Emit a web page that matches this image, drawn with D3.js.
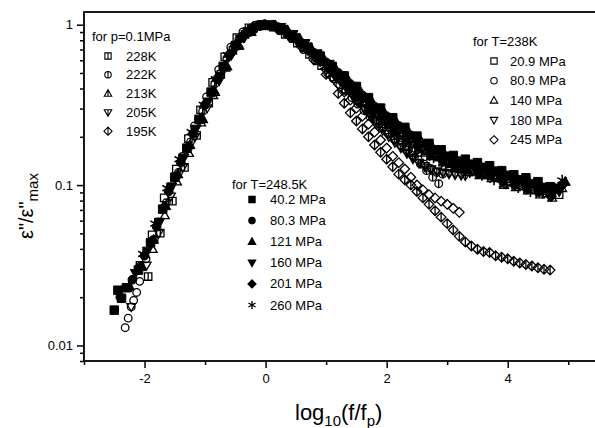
<html>
<head>
<script src="https://d3js.org/d3.v7.min.js"></script>
<style>
  body { margin: 0; background: #fff; }
  text { font-family: "Liberation Sans", Arial, sans-serif; }
</style>
</head>
<body>
<div id="chart"></div>
<script>

// ---- data: x = log10(f/fp), y = eps''/eps''max ----

// T = 248.5 K (filled symbols)
const t248_40 = [[-2.5,0.0166],[-2.44,0.0221],[-2.38,0.0197],[-2.3,0.0229],[-2.1,0.0295],[-1.9,0.0437],[-1.7,0.0708],[-1.5,0.112],[-1.3,0.170],[-1.1,0.257],[-0.9,0.380],[-0.7,0.550],[-0.5,0.741],[-0.3,0.902],[-0.1,0.989],[0.1,0.989],[0.3,0.923],[0.5,0.822],[0.7,0.724],[0.9,0.638],[1.1,0.550],[1.3,0.479],[1.5,0.412],[1.7,0.351],[1.9,0.302],[2.1,0.263],[2.3,0.229],[2.5,0.202],[2.7,0.182],[2.9,0.166],[3.1,0.153],[3.3,0.145],[3.5,0.138],[3.7,0.132],[3.9,0.123],[4.1,0.116],[4.3,0.111],[4.5,0.105],[4.7,0.0977]];
const t248_80 = [[-2.4,0.0200],[-2.2,0.0257],[-2.0,0.0363],[-1.8,0.055],[-1.6,0.0912],[-1.4,0.138],[-1.2,0.209],[-1.0,0.316],[-0.8,0.457],[-0.6,0.646],[-0.4,0.832],[-0.2,0.955],[0,1.0],[0.2,0.966],[0.4,0.871],[0.6,0.767],[0.8,0.668],[1.0,0.582],[1.2,0.501],[1.4,0.427],[1.6,0.363],[1.8,0.309],[2.0,0.269],[2.2,0.234],[2.4,0.204],[2.6,0.182],[2.8,0.166],[3.0,0.151],[3.2,0.141],[3.4,0.135],[3.6,0.129],[3.8,0.122],[4.0,0.115],[4.2,0.108],[4.4,0.102],[4.6,0.0966],[4.8,0.0955]];
const t248_121 = [[-2.25,0.0234],[-2.05,0.0309],[-1.85,0.0457],[-1.65,0.0741],[-1.45,0.117],[-1.25,0.178],[-1.05,0.263],[-0.85,0.389],[-0.65,0.550],[-0.45,0.741],[-0.25,0.902],[-0.05,0.989],[0.15,0.989],[0.35,0.923],[0.55,0.822],[0.75,0.716],[0.95,0.624],[1.15,0.537],[1.35,0.462],[1.55,0.394],[1.75,0.335],[1.95,0.288],[2.15,0.251],[2.35,0.219],[2.55,0.193],[2.75,0.174],[2.95,0.158],[3.15,0.146],[3.35,0.138],[3.55,0.132],[3.75,0.126],[3.95,0.117],[4.15,0.111],[4.35,0.106],[4.55,0.100],[4.75,0.0933],[4.95,0.105]];
const t248_160 = [[-2.15,0.0282],[-1.95,0.0389],[-1.75,0.0589],[-1.55,0.0977],[-1.35,0.148],[-1.15,0.224],[-0.95,0.331],[-0.75,0.479],[-0.55,0.661],[-0.35,0.832],[-0.15,0.955],[0.05,1.0],[0.25,0.966],[0.45,0.871],[0.65,0.767],[0.85,0.661],[1.05,0.569],[1.25,0.484],[1.45,0.407],[1.65,0.347],[1.85,0.295],[2.05,0.257],[2.25,0.224],[2.45,0.195],[2.65,0.174],[2.85,0.158],[3.05,0.145],[3.25,0.135],[3.45,0.129],[3.65,0.123],[3.85,0.116],[4.05,0.110],[4.25,0.104],[4.45,0.0977],[4.65,0.0923],[4.85,0.0912]];
const t248_201 = [[-2.085,0.0309],[-1.885,0.0447],[-1.685,0.0724],[-1.485,0.112],[-1.285,0.170],[-1.085,0.257],[-0.885,0.380],[-0.685,0.550],[-0.485,0.741],[-0.285,0.902],[-0.085,0.989],[0.115,0.989],[0.315,0.923],[0.515,0.813],[0.715,0.700],[0.915,0.596],[1.115,0.501],[1.315,0.427],[1.515,0.359],[1.715,0.305],[1.915,0.263],[2.115,0.229],[2.315,0.200],[2.515,0.176],[2.715,0.158],[2.915,0.145],[3.115,0.133],[3.315,0.126],[3.515,0.120],[3.715,0.115],[3.915,0.107],[4.115,0.101],[4.315,0.0966],[4.515,0.0912],[4.715,0.0851],[4.9,0.100]];
const t248_260 = [[-2.025,0.0372],[-1.825,0.0575],[-1.625,0.0955],[-1.425,0.145],[-1.225,0.214],[-1.025,0.316],[-0.825,0.457],[-0.625,0.646],[-0.425,0.832],[-0.225,0.955],[-0.025,1.0],[0.175,0.966],[0.375,0.871],[0.575,0.759],[0.775,0.646],[0.975,0.550],[1.175,0.462],[1.375,0.385],[1.575,0.324],[1.775,0.275],[1.975,0.240],[2.175,0.209],[2.375,0.182],[2.575,0.162],[2.775,0.148],[2.975,0.135],[3.175,0.126],[3.375,0.120],[3.575,0.115],[3.775,0.108],[3.975,0.102],[4.175,0.0966],[4.375,0.0912],[4.575,0.0891],[4.675,0.0871],[4.775,0.0955],[4.9,0.107]];

// p = 0.1 MPa (open symbols with a bar)
const p01_228 = [[-1.94,0.0269],[-1.74,0.0501],[-1.54,0.0794],[-1.34,0.129],[-1.14,0.204],[-0.94,0.324],[-0.74,0.490],[-0.54,0.692],[-0.34,0.871],[-0.14,0.989],[0.06,0.989],[0.26,0.923],[0.46,0.822],[0.66,0.716],[0.86,0.624],[1.06,0.537],[1.26,0.462],[1.46,0.394],[1.66,0.335],[1.86,0.288]];
const p01_222 = [[-1.84,0.0457],[-1.64,0.0776],[-1.44,0.120],[-1.24,0.186],[-1.04,0.288],[-0.84,0.427],[-0.64,0.617],[-0.44,0.813],[-0.24,0.955],[-0.04,1.0],[0.16,0.966],[0.36,0.871],[0.56,0.767],[0.76,0.668],[0.96,0.582],[1.16,0.501],[1.26,0.463],[1.36,0.427],[1.46,0.389],[1.56,0.355],[1.66,0.327],[1.76,0.302],[1.86,0.275],[1.96,0.251],[2.06,0.226],[2.16,0.204],[2.26,0.184],[2.36,0.166],[2.46,0.150],[2.56,0.135],[2.66,0.123],[2.76,0.112],[2.86,0.102]];
const p01_213 = [[-1.035,0.257],[-0.835,0.380],[-0.635,0.550],[-0.435,0.741],[-0.235,0.902],[-0.035,0.989],[0.165,0.989],[0.365,0.923],[0.565,0.822],[0.765,0.700],[0.965,0.596],[1.165,0.501],[1.265,0.460],[1.365,0.422],[1.465,0.389],[1.565,0.359],[1.665,0.328],[1.765,0.299],[1.865,0.277],[1.965,0.257],[2.065,0.240],[2.165,0.224],[2.265,0.209],[2.365,0.195],[2.465,0.183],[2.565,0.172],[2.665,0.163],[2.765,0.155],[2.865,0.148],[2.965,0.141],[3.065,0.135],[3.165,0.130],[3.265,0.125],[3.365,0.120],[3.565,0.117],[3.665,0.115],[3.765,0.114],[3.865,0.112],[3.94,0.100]];
const p01_205 = [[-0.77,0.457],[-0.57,0.646],[-0.37,0.832],[-0.17,0.955],[0.03,1.0],[0.23,0.966],[0.43,0.871],[0.63,0.767],[0.83,0.646],[1.03,0.543],[1.13,0.493],[1.23,0.447],[1.33,0.403],[1.43,0.363],[1.53,0.331],[1.63,0.302],[1.73,0.275],[1.83,0.251],[1.93,0.229],[2.03,0.209],[2.13,0.191],[2.23,0.174],[2.33,0.160],[2.43,0.148],[2.53,0.138],[2.63,0.132],[2.73,0.126],[2.83,0.122],[2.93,0.119],[3.03,0.117],[3.13,0.116],[3.23,0.115],[3.3,0.114]];
const p01_195 = [[-0.6,0.646],[-0.4,0.832],[-0.2,0.955],[0,1.0],[0.2,0.955],[0.4,0.851],[0.6,0.724],[0.8,0.603],[1.0,0.490],[1.2,0.372],[1.3,0.324],[1.4,0.282],[1.5,0.251],[1.6,0.224],[1.7,0.200],[1.8,0.178],[1.9,0.160],[2.0,0.145],[2.1,0.130],[2.2,0.117],[2.3,0.108],[2.4,0.100],[2.5,0.0912],[2.6,0.0832],[2.7,0.0759],[2.8,0.0692],[2.9,0.0631],[3.0,0.0575],[3.1,0.0525],[3.2,0.0479],[3.3,0.0442],[3.4,0.0417],[3.5,0.0398],[3.6,0.0385],[3.7,0.0380],[3.8,0.0363],[3.9,0.0355],[4.0,0.0347],[4.1,0.0335],[4.2,0.0327],[4.3,0.0320],[4.4,0.0313],[4.5,0.0305],[4.6,0.0299],[4.7,0.0295]];

// T = 238 K (open symbols)
const t238_21 = [[-2.275,0.0229],[-2.075,0.0316],[-1.875,0.0490],[-1.675,0.0832],[-1.475,0.126],[-1.275,0.195],[-1.075,0.295],[-0.875,0.437],[-0.675,0.631],[-0.475,0.832],[-0.275,0.955],[-0.075,1.0],[0.125,0.966],[0.325,0.871],[0.525,0.767],[0.725,0.653],[0.925,0.556],[1.125,0.473],[1.325,0.398],[1.525,0.339],[1.725,0.288],[1.925,0.251],[2.125,0.219],[2.325,0.191],[2.525,0.170],[2.725,0.155],[2.925,0.141],[3.125,0.132],[3.325,0.126],[3.525,0.120],[3.725,0.114],[3.925,0.107],[4.125,0.101],[4.325,0.0955],[4.525,0.0902],[4.725,0.0871],[4.85,0.0871]];
const t238_81 = [[-2.32,0.0129],[-2.27,0.0148],[-2.22,0.0174],[-2.18,0.0191],[-2.13,0.0214],[-2.08,0.0251],[-1.975,0.0347],[-1.775,0.0589],[-1.575,0.0977],[-1.375,0.151],[-1.175,0.234],[-0.975,0.355],[-0.775,0.525],[-0.575,0.724],[-0.375,0.902],[-0.175,0.989],[0.025,0.989],[0.225,0.923],[0.425,0.822],[0.625,0.700],[0.825,0.596],[1.025,0.501],[1.125,0.460],[1.225,0.422],[1.325,0.385],[1.425,0.351],[1.525,0.320],[1.625,0.292],[1.725,0.267],[1.825,0.245],[1.925,0.226],[2.025,0.209],[2.125,0.193],[2.225,0.178],[2.325,0.165],[2.425,0.153],[2.525,0.144],[2.625,0.135],[2.725,0.127],[2.825,0.120],[2.925,0.117]];
const t238_140 = [[-1.865,0.0398],[-1.665,0.0646],[-1.465,0.105],[-1.265,0.158],[-1.065,0.245],[-0.865,0.363],[-0.665,0.537],[-0.465,0.741],[-0.265,0.902],[-0.065,0.989],[0.135,0.989],[0.335,0.923],[0.535,0.822],[0.735,0.700],[0.935,0.596],[1.135,0.501],[1.235,0.460],[1.335,0.422],[1.435,0.387],[1.535,0.355],[1.635,0.326],[1.735,0.299],[1.835,0.276],[1.935,0.254],[2.035,0.236],[2.135,0.219],[2.235,0.205],[2.335,0.191],[2.435,0.179],[2.535,0.168],[2.635,0.159],[2.735,0.151],[2.935,0.138],[3.135,0.127],[3.335,0.120],[3.535,0.115],[3.735,0.110],[3.935,0.102],[4.135,0.0966],[4.335,0.0923],[4.535,0.0871],[4.735,0.0832],[4.9,0.0955]];
const t238_180 = [[-2.22,0.0174],[-1.965,0.0316],[-1.765,0.0501],[-1.565,0.0851],[-1.365,0.129],[-1.165,0.200],[-0.965,0.302],[-0.765,0.447],[-0.565,0.646],[-0.365,0.832],[-0.165,0.955],[0.035,1.0],[0.235,0.966],[0.435,0.871],[0.635,0.750],[0.835,0.638],[1.035,0.537],[1.135,0.490],[1.235,0.447],[1.335,0.403],[1.435,0.363],[1.535,0.327],[1.635,0.295],[1.735,0.266],[1.835,0.240],[1.935,0.219],[2.035,0.200],[2.135,0.184],[2.235,0.170],[2.335,0.157],[2.435,0.145],[2.535,0.137],[2.635,0.129],[2.735,0.125],[2.835,0.122],[2.935,0.120],[3.035,0.119],[3.135,0.117],[3.235,0.116]];
const t238_245 = [[-0.5,0.741],[-0.3,0.902],[-0.1,0.989],[0.1,0.989],[0.3,0.923],[0.5,0.822],[0.7,0.692],[0.9,0.589],[1.0,0.525],[1.1,0.473],[1.2,0.427],[1.3,0.380],[1.4,0.339],[1.5,0.302],[1.6,0.269],[1.7,0.240],[1.8,0.214],[1.9,0.191],[2.0,0.170],[2.1,0.151],[2.2,0.138],[2.3,0.126],[2.4,0.112],[2.5,0.100],[2.6,0.0933],[2.7,0.0871],[2.8,0.0832],[2.9,0.0794],[3.0,0.0759],[3.1,0.0716],[3.2,0.0676]];

// legend labels
const legendP = ["228K", "222K", "213K", "205K", "195K"];
const legendT238 = ["20.9 MPa", "80.9 MPa", "140 MPa", "180 MPa", "245 MPa"];
const legendT248 = ["40.2 MPa", "80.3 MPa", "121 MPa", "160 MPa", "201 MPa", "260 MPa"];

// axis ticks
const xMajor = [-2, 0, 2, 4];
const xTickLabels = ["-2", "0", "2", "4"];
const xMinor = [-3, -1, 1, 3, 5];
const yMajor = [0.01, 0.1, 1];
const yTickLabels = ["0.01", "0.1", "1"];
const yMinor = [0.008, 0.009, 0.02, 0.03, 0.04, 0.05, 0.06, 0.07, 0.08, 0.09, 0.2, 0.3, 0.4, 0.5, 0.6, 0.7, 0.8, 0.9];

// ---- chart ----
const W = 595, H = 428;
const plot = { left: 84, top: 12, right: 598.5, bottom: 361 };

const svg = d3.select("#chart").append("svg")
  .attr("width", W).attr("height", H);

const x = d3.scaleLinear().domain([-3, 5.5]).range([plot.left, plot.right]);
const y = d3.scaleLog().domain([0.008, 1.2]).range([plot.bottom, plot.top]);

// marker paths, k = size factor
function symbolPath(shape, bar, k) {
  k = k || 1;
  let p;
  if (shape === "square") { const r = 3.7 * k; p = `M${-r},${-r}H${r}V${r}H${-r}Z`; }
  else if (shape === "circle") { const r = 3.8 * k; p = `M${r},0A${r},${r} 0 1,1 ${-r},0A${r},${r} 0 1,1 ${r},0Z`; }
  else if (shape === "up") { p = `M0,${-4.6 * k}L${4.4 * k},${3.2 * k}L${-4.4 * k},${3.2 * k}Z`; }
  else if (shape === "down") { p = `M0,${4.6 * k}L${4.4 * k},${-3.2 * k}L${-4.4 * k},${-3.2 * k}Z`; }
  else if (shape === "diamond") { const r = 4.8 * k; p = `M0,${-r}L${r},0L0,${r}L${-r},0Z`; }
  else if (shape === "star") { const a = 4.8 * k, b = 4.2 * k, c = 2.4 * k; p = `M0,${-a}V${a}M${-b},${-c}L${b},${c}M${-b},${c}L${b},${-c}`; }
  if (bar) p += `M0,${-3.8 * k}V${3.8 * k}`;
  return p;
}

const seriesOpen = [
  { data: p01_228, shape: "square", bar: true },
  { data: p01_222, shape: "circle", bar: true },
  { data: p01_213, shape: "up", bar: true },
  { data: p01_205, shape: "down", bar: true },
  { data: p01_195, shape: "diamond", bar: true },
  { data: t238_21, shape: "square", bar: false },
  { data: t238_81, shape: "circle", bar: false },
  { data: t238_140, shape: "up", bar: false },
  { data: t238_180, shape: "down", bar: false },
  { data: t238_245, shape: "diamond", bar: false }
];
const seriesFilled = [
  { data: t248_40, shape: "square" },
  { data: t248_80, shape: "circle" },
  { data: t248_121, shape: "up" },
  { data: t248_160, shape: "down" },
  { data: t248_201, shape: "diamond" },
  { data: t248_260, shape: "star" }
];

svg.append("clipPath").attr("id", "clip")
  .append("rect")
  .attr("x", plot.left).attr("y", plot.top)
  .attr("width", plot.right - plot.left).attr("height", plot.bottom - plot.top);

const marks = svg.append("g").attr("clip-path", "url(#clip)");

seriesOpen.forEach(s => {
  marks.append("g").selectAll("path")
    .data(s.data)
    .enter()
    .append("path")
    .attr("transform", d => "translate(" + x(d[0]) + "," + y(d[1]) + ")")
    .attr("d", symbolPath(s.shape, s.bar, 1))
    .attr("fill", "none")
    .attr("stroke", "#000")
    .attr("stroke-width", 1.3);
});

seriesFilled.forEach(s => {
  marks.append("g").selectAll("path")
    .data(s.data)
    .enter()
    .append("path")
    .attr("transform", d => "translate(" + x(d[0]) + "," + y(d[1]) + ")")
    .attr("d", symbolPath(s.shape, false, 1.15))
    .attr("fill", "#000")
    .attr("stroke", "#000")
    .attr("stroke-width", s.shape === "star" ? 1.6 : 1);
});

// axes
function styleAxis(g) {
  g.select(".domain").remove();
  g.selectAll(".tick line").attr("stroke", "#000").attr("stroke-width", 1.5);
  g.selectAll(".tick text")
    .attr("fill", "#000")
    .style("font-size", "13px")
    .style("font-family", "'Liberation Sans', Arial, sans-serif");
}

svg.append("g")
  .attr("transform", "translate(" + plot.left + ",0)")
  .call(d3.axisLeft(y).tickValues(yMajor).tickFormat((d, i) => yTickLabels[i]).tickSize(7).tickPadding(4))
  .call(styleAxis);

svg.append("g")
  .attr("transform", "translate(" + plot.left + ",0)")
  .call(d3.axisLeft(y).tickValues(yMinor).tickFormat("").tickSize(4))
  .call(styleAxis);

svg.append("g")
  .attr("transform", "translate(0," + plot.bottom + ")")
  .call(d3.axisBottom(x).tickValues(xMajor).tickFormat((d, i) => xTickLabels[i]).tickSize(7).tickPadding(6))
  .call(styleAxis);

svg.append("g")
  .attr("transform", "translate(0," + plot.bottom + ")")
  .call(d3.axisBottom(x).tickValues(xMinor).tickFormat("").tickSize(4))
  .call(styleAxis);

// frame
svg.append("rect")
  .attr("x", plot.left).attr("y", plot.top)
  .attr("width", plot.right - plot.left).attr("height", plot.bottom - plot.top)
  .attr("fill", "none").attr("stroke", "#000").attr("stroke-width", 1.8);

// legends
function legend(title, tx, ty, symX, textX, y0, dy, labels, shapes, opts) {
  const g = svg.append("g");
  g.append("text").attr("x", tx).attr("y", ty).style("font-size", "13px").text(title);
  labels.forEach((lab, i) => {
    const cy = y0 + i * dy;
    g.append("path")
      .attr("transform", "translate(" + symX + "," + cy + ")")
      .attr("d", symbolPath(shapes[i], opts.bar, 0.85))
      .attr("fill", opts.filled ? "#000" : "none")
      .attr("stroke", "#000")
      .attr("stroke-width", shapes[i] === "star" ? 1.3 : 1.1);
    g.append("text").attr("x", textX).attr("y", cy + 4.5).style("font-size", "13px").text(lab);
  });
}

legend("for p=0.1MPa", 92, 41, 108, 126, 56, 18.8, legendP,
  ["square", "circle", "up", "down", "diamond"], { bar: true, filled: false });
legend("for T=238K", 473, 46, 494, 510, 61, 19.7, legendT238,
  ["square", "circle", "up", "down", "diamond"], { bar: false, filled: false });
legend("for T=248.5K", 232, 189, 252, 270, 199.5, 21.1, legendT248,
  ["square", "circle", "up", "down", "diamond", "star"], { bar: false, filled: true });

// axis titles
const xt = svg.append("text").attr("x", 295).attr("y", 420).style("font-size", "22px");
xt.append("tspan").text("log");
xt.append("tspan").attr("dy", 6).style("font-size", "15px").text("10");
xt.append("tspan").attr("dy", -6).text("(f/f");
xt.append("tspan").attr("dy", 6).style("font-size", "15px").text("p");
xt.append("tspan").attr("dy", -6).text(")");

const yt = svg.append("text").attr("transform", "translate(33,239) rotate(-90)").style("font-size", "20px");
yt.append("tspan").text("\u03b5\"/\u03b5\"");
yt.append("tspan").attr("dy", 5).style("font-size", "15px").text("max");

</script>
</body>
</html>
